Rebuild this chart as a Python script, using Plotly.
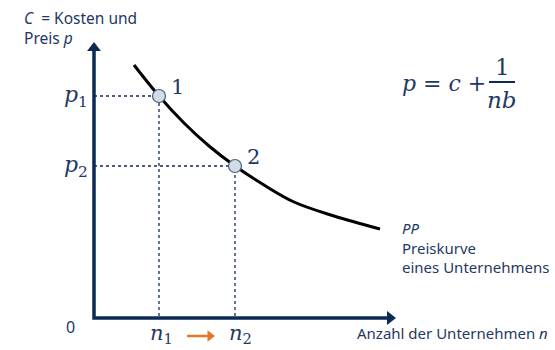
import plotly.graph_objects as go

# Preiskurve PP (Koordinaten relativ zum Ursprung, Einheiten beliebig)
curve_n = [40, 65, 90, 115, 141, 170, 200, 240, 286]
curve_p = [253, 222, 195, 172, 152, 133, 116, 102, 89]

# Gleichgewichtspunkte 1 und 2
point_labels = ["1", "2"]
point_n = [65, 141]
point_p = [222, 152]

# Achsenenden
x_end = 296
y_end = 270

NAVY = "#0d2a55"
TEXT = "#1f3864"
ORANGE = "#e87722"
SANS = "Noto Sans"
MATH = "DejaVu Serif"

fig = go.Figure()

# Hilfslinien (gepunktet)
for n, p in zip(point_n, point_p):
    fig.add_trace(go.Scatter(
        x=[0, n, n], y=[p, p, 0], mode="lines",
        line=dict(color=NAVY, width=1.3, dash="dot"),
        hoverinfo="skip", showlegend=False,
    ))

# Achsen
fig.add_trace(go.Scatter(
    x=[0, 0, x_end], y=[y_end, 0, 0], mode="lines",
    line=dict(color=NAVY, width=3.5),
    hoverinfo="skip", showlegend=False,
))
# Pfeilspitzen
fig.add_trace(go.Scatter(
    x=[0, x_end], y=[y_end, 0], mode="markers",
    marker=dict(symbol=["triangle-up", "triangle-right"], size=12, color=NAVY),
    hoverinfo="skip", showlegend=False,
))

# Oranger Pfeil n1 -> n2
fig.add_trace(go.Scatter(
    x=[93, 114], y=[-18, -18], mode="lines",
    line=dict(color=ORANGE, width=2.5),
    hoverinfo="skip", showlegend=False,
))
fig.add_trace(go.Scatter(
    x=[116], y=[-18], mode="markers",
    marker=dict(symbol="triangle-right", size=10, color=ORANGE),
    hoverinfo="skip", showlegend=False,
))

# Kurve
fig.add_trace(go.Scatter(
    x=curve_n, y=curve_p, mode="lines",
    line=dict(color="black", width=3, shape="spline", smoothing=1.0),
    hoverinfo="skip", showlegend=False,
))

# Punkte
fig.add_trace(go.Scatter(
    x=point_n, y=point_p, mode="markers",
    marker=dict(size=13, color="#d5dbe6", line=dict(color="#4a5f80", width=1.2)),
    hoverinfo="skip", showlegend=False,
))

ann = []


def label(x, y, text, size, font=MATH, xanchor="center"):
    ann.append(dict(x=x, y=y, xref="x", yref="y", text=text, showarrow=False, align="left",
                    font=dict(family=font, size=size, color=TEXT), xanchor=xanchor, yanchor="middle"))


for t, n, p in zip(point_labels, point_n, point_p):
    label(n + 18, p + 9, t, 21)
label(-18, 222, "<i>p</i><sub>1</sub>", 22)
label(-18, 152, "<i>p</i><sub>2</sub>", 22)
label(67, -16, "<i>n</i><sub>1</sub>", 21)
label(146, -16, "<i>n</i><sub>2</sub>", 21)
label(-24, -9, "0", 16, SANS)

label(-72, 290, "<i>C</i>  = Kosten und<br>Preis <i>p</i>", 15.5, SANS, "left")
label(306, 71, "<i>PP</i><br>Preiskurve<br>eines Unternehmens", 15, SANS, "left")
label(261, -15, "Anzahl der Unternehmen <i>n</i>", 15, SANS, "left")

# Formel p = c + 1/(nb)
label(350, 235, "<i>p</i> = <i>c</i> +", 22, MATH, "center")
label(408, 251, "1", 23, MATH, "center")
label(408, 218, "<i>nb</i>", 23, MATH, "center")

fig.update_layout(
    annotations=ann,
    shapes=[dict(type="line", xref="x", yref="y", x0=395, x1=421, y0=236, y1=236,
                 line=dict(color=NAVY, width=2))],
    width=555, height=350,
    margin=dict(l=0, r=0, t=0, b=0),
    paper_bgcolor="white", plot_bgcolor="white",
    xaxis=dict(range=[-94, 461], visible=False, fixedrange=True),
    yaxis=dict(range=[-32, 318], visible=False, fixedrange=True),
    showlegend=False,
)

fig.write_html("out.html", config=dict(displayModeBar=False),
               post_script="document.body.style.margin='0';")
